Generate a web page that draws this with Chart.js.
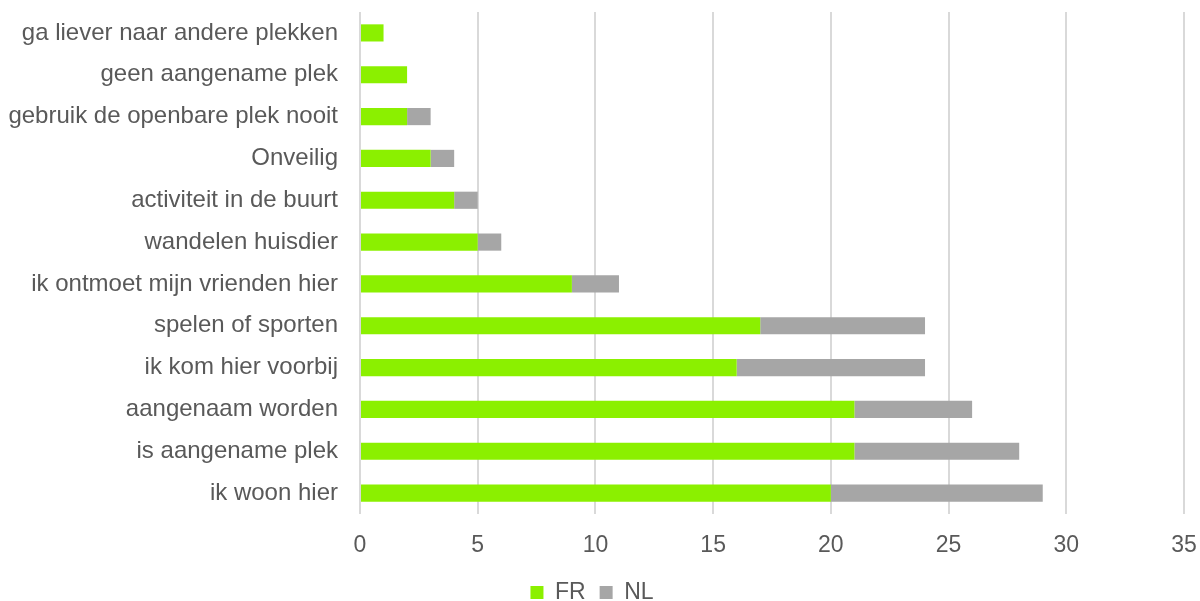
<!DOCTYPE html>
<html lang="nl">
<head>
    <meta charset="UTF-8">
    <title>FR / NL</title>
    <script src="https://cdn.jsdelivr.net/npm/chart.js"></script>
    <style>
        html, body {
            margin: 0;
            padding: 0;
            background: #FFFFFF;
        }
        #wrap {
            width: 1200px;
            height: 601px;
        }
    </style>
</head>
<body>
<div id="wrap"><canvas id="chart"></canvas></div>
<script>
    const categories = [
        "ga liever naar andere plekken",
        "geen aangename plek",
        "gebruik de openbare plek nooit",
        "Onveilig",
        "activiteit in de buurt",
        "wandelen huisdier",
        "ik ontmoet mijn vrienden hier",
        "spelen of sporten",
        "ik kom hier voorbij",
        "aangenaam worden",
        "is aangename plek",
        "ik woon hier"
    ];
    const frValues = [1, 2, 2, 3, 4, 5, 9, 17, 16, 21, 21, 20];
    const nlValues = [0, 0, 1, 1, 1, 1, 2, 7, 8, 5, 7, 9];
    const xTicks = [0, 5, 10, 15, 20, 25, 30, 35];

    const ctx = document.getElementById('chart').getContext('2d');
    new Chart(ctx, {
        type: 'bar',
        data: {
            labels: categories,
            datasets: [
                { label: 'FR', data: frValues, backgroundColor: '#8BF000', barPercentage: 0.41, categoryPercentage: 1 },
                { label: 'NL', data: nlValues, backgroundColor: '#A6A6A6', barPercentage: 0.41, categoryPercentage: 1 }
            ]
        },
        options: {
            indexAxis: 'y',
            responsive: true,
            maintainAspectRatio: false,
            animation: false,
            // negative bottom pushes the legend a bit lower, like the original
            layout: { padding: { top: 12, right: 16, left: 0, bottom: -13 } },
            scales: {
                x: {
                    stacked: true,
                    min: xTicks[0],
                    max: xTicks[xTicks.length - 1],
                    afterBuildTicks: axis => { axis.ticks = xTicks.map(v => ({ value: v })); },
                    afterFit: axis => {
                        axis.height = 53;
                        axis.paddingRight = 0;
                    },
                    grid: { color: '#D9D9D9', lineWidth: 2, drawTicks: false },
                    border: { display: false },
                    ticks: {
                        padding: 18,
                        color: '#595959',
                        font: { family: 'Liberation Sans', size: 23 }
                    }
                },
                y: {
                    stacked: true,
                    afterFit: axis => {
                        axis.width = 360;
                        axis.paddingTop = 0;
                        axis.paddingBottom = 0;
                    },
                    grid: { display: false, drawTicks: false },
                    border: { display: false },
                    ticks: {
                        padding: 22,
                        color: '#595959',
                        font: { family: 'Liberation Sans', size: 24 }
                    }
                }
            },
            plugins: {
                legend: {
                    position: 'bottom',
                    labels: {
                        boxWidth: 13,
                        boxHeight: 13,
                        padding: 14,
                        color: '#595959',
                        font: { family: 'Liberation Sans', size: 23 }
                    }
                },
                tooltip: { enabled: false }
            }
        }
    });
</script>
</body>
</html>
